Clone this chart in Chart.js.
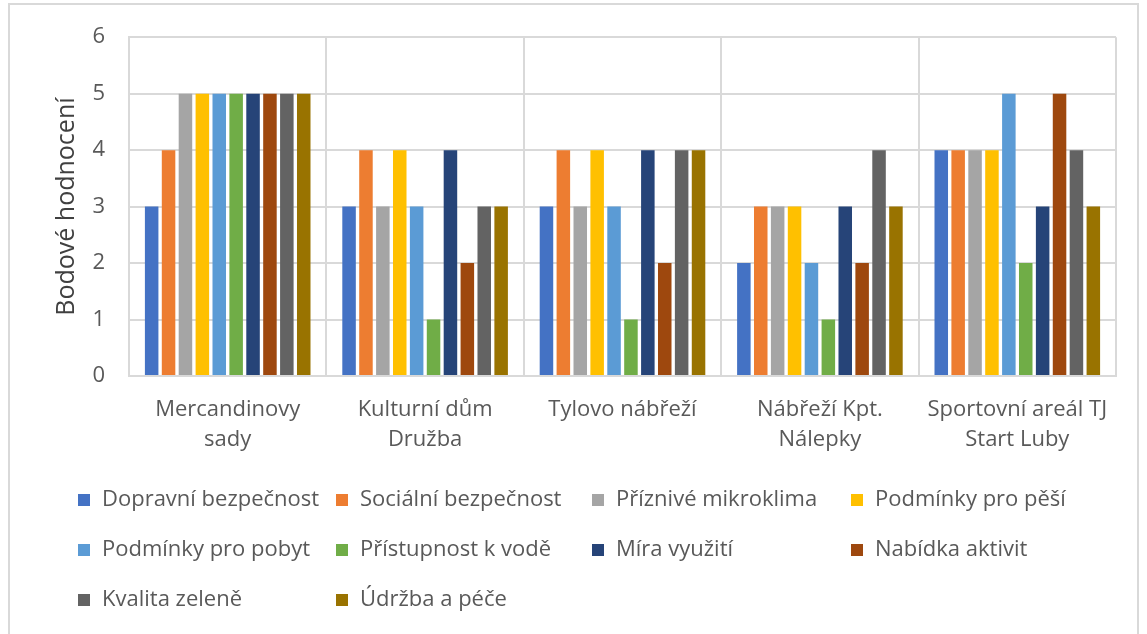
<!DOCTYPE html>
<html>
<head>
<meta charset="utf-8">
<script src="https://cdn.jsdelivr.net/npm/chart.js@4/dist/chart.umd.min.js"></script>
<style>
  html, body { margin: 0; padding: 0; background: #fff; }
  #wrap { position: relative; width: 1147px; height: 634px; overflow: hidden; }
  #frame { position: absolute; left: 8px; top: 3px; width: 1131px; height: 660px; border: 2px solid #d9d9d9; box-sizing: border-box; }
  canvas { position: absolute; left: 0; top: 0; }
</style>
</head>
<body>
<div id="wrap">
  <div id="frame"></div>
  <canvas id="chart" width="1147" height="634"></canvas>
</div>
<script>
// categories (places)
var places = [
    ['Mercandinovy', 'sady'],
    ['Kulturní dům', 'Družba'],
    'Tylovo nábřeží',
    ['Nábřeží Kpt.', 'Nálepky'],
    ['Sportovní areál TJ', 'Start Luby']
];

// criteria names and their colours
var criteria = [
    'Dopravní bezpečnost', 'Sociální bezpečnost', 'Příznivé mikroklima', 'Podmínky pro pěší',
    'Podmínky pro pobyt', 'Přístupnost k vodě', 'Míra využití', 'Nabídka aktivit',
    'Kvalita zeleně', 'Údržba a péče'
];
var colors = ['#4472C4', '#ED7D31', '#A5A5A5', '#FFC000', '#5B9BD5', '#70AD47', '#264478', '#9E480E', '#636363', '#997300'];

// scores per criterion, one value per place
var dopravni   = [3, 3, 3, 2, 4];
var socialni   = [4, 4, 4, 3, 4];
var mikroklima = [5, 3, 3, 3, 4];
var pesi       = [5, 4, 4, 3, 4];
var pobyt      = [5, 3, 3, 2, 5];
var voda       = [5, 1, 1, 1, 2];
var vyuziti    = [5, 4, 4, 3, 3];
var aktivity   = [5, 2, 2, 2, 5];
var zelen      = [5, 3, 4, 4, 4];
var udrzba     = [5, 3, 4, 3, 3];
var scores = [dopravni, socialni, mikroklima, pesi, pobyt, voda, vyuziti, aktivity, zelen, udrzba];

var yTicks = [0, 1, 2, 3, 4, 5, 6];

var FONT = '"Open Sans", "Liberation Sans", sans-serif';
var TEXT = '#595959';

// legend laid out in a fixed grid like the Excel one
var gridLegend = {
    id: 'gridLegend',
    afterDraw: function(chart) {
        var c = chart.ctx;
        var cols = [78, 336, 592, 851];
        var rows = [500, 550, 600];
        c.save();
        c.font = '22px ' + FONT;
        c.textBaseline = 'middle';
        chart.data.datasets.forEach(function(ds, i) {
            var x = cols[i % 4];
            var y = rows[Math.floor(i / 4)];
            c.fillStyle = ds.backgroundColor;
            c.fillRect(x, y - 6, 12, 12);
            c.fillStyle = TEXT;
            c.fillText(ds.label, x + 24, y);
        });
        c.restore();
    }
};

var ctx = document.getElementById('chart').getContext('2d');
var chart = new Chart(ctx, {
    type: 'bar',
    data: {
        labels: places,
        datasets: criteria.map(function(name, i) {
            return {
                label: name,
                data: scores[i],
                backgroundColor: colors[i],
                borderWidth: 0,
                categoryPercentage: 0.856,
                barPercentage: 0.8
            };
        })
    },
    options: {
        responsive: false,
        animation: false,
        layout: { padding: { left: 0, right: 31, top: 36, bottom: 170 } },
        plugins: {
            legend: { display: false },
            tooltip: { enabled: false }
        },
        scales: {
            x: {
                grid: { color: '#d9d9d9', lineWidth: 2, drawTicks: false, offset: true },
                border: { color: '#d9d9d9', width: 2 },
                ticks: { color: TEXT, font: { family: FONT, size: 22, lineHeight: 1.4 }, padding: 18, maxRotation: 0, autoSkip: false },
                afterFit: function(s) { s.height = 88; }
            },
            y: {
                min: 0,
                max: 6,
                afterBuildTicks: function(s) { s.ticks = yTicks.map(function(v) { return { value: v }; }); },
                grid: { color: '#d9d9d9', lineWidth: 2, drawTicks: false },
                border: { color: '#d9d9d9', width: 2 },
                ticks: { color: TEXT, font: { family: FONT, size: 22 }, padding: 24 },
                title: {
                    display: true,
                    text: 'Bodové hodnocení',
                    color: '#404040',
                    font: { family: FONT, size: 25 },
                    padding: { top: 52, bottom: 0 }
                },
                afterFit: function(s) { s.width = 129; }
            }
        }
    },
    plugins: [gridLegend]
});
</script>
</body>
</html>
